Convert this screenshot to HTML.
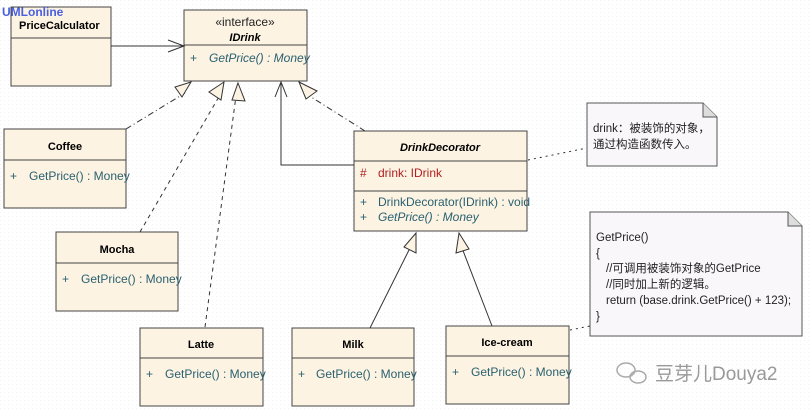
<!DOCTYPE html>
<html><head><meta charset="utf-8"><style>
body{margin:0;background:#fff;}
svg text{font-family:"Liberation Sans","Noto Sans CJK SC",sans-serif;}
</style></head><body>
<svg width="810" height="412" viewBox="0 0 810 412" xmlns="http://www.w3.org/2000/svg">
<defs>
<pattern id="bg" width="4" height="4" patternUnits="userSpaceOnUse"><rect width="4" height="4" fill="#fff"/><rect width="1" height="1" fill="#f2f2f2"/></pattern>
</defs>
<rect width="810" height="412" fill="url(#bg)"/>
<g stroke="#444" stroke-width="1" fill="#fcf3e3">
<rect x="11" y="7" width="100" height="79"/><line x1="11" y1="38" x2="111" y2="38"/>
<rect x="184" y="10" width="123" height="71"/><line x1="184" y1="45" x2="307" y2="45"/>
<rect x="4" y="129" width="122" height="79"/><line x1="4" y1="160" x2="126" y2="160"/>
<rect x="56" y="232" width="122" height="79"/><line x1="56" y1="263" x2="178" y2="263"/>
<rect x="140" y="328" width="123" height="78"/><line x1="140" y1="358" x2="263" y2="358"/>
<rect x="292" y="328" width="122" height="78"/><line x1="292" y1="358" x2="414" y2="358"/>
<rect x="446" y="326" width="123" height="78"/><line x1="446" y1="356" x2="569" y2="356"/>
<rect x="354" y="131" width="173" height="100"/><line x1="354" y1="161" x2="527" y2="161"/><line x1="354" y1="191" x2="527" y2="191"/>
</g>
<g stroke="#555" fill="#f9f7fa">
<path d="M587,103 H703 L717,117 V166 H587 Z"/><path d="M703,103 V117 H717" fill="#ddd"/>
<path d="M590,212 H788 L802,226 V336 H590 Z"/><path d="M788,212 V226 H802" fill="#ddd"/>
</g>
<g stroke="#333" fill="none">
<line x1="111" y1="46" x2="184" y2="46"/><path d="M168,40 L184,46 L168,52"/>
<path d="M354,165 H281 V82"/><path d="M275,97 L281,82 L287,97"/>
<path d="M126,129 L185,93" stroke-dasharray="6,3,1,3"/>
<path d="M140,232 L220,95" stroke-dasharray="4,4"/>
<path d="M205,327 L236,96" stroke-dasharray="4,4"/>
<path d="M365,131 L308,95" stroke-dasharray="6,3,1,3"/>
<path d="M370,328 L410,248"/>
<path d="M492,326 L462,248"/>
<path d="M528,160 L587,148" stroke-dasharray="2,4"/>
<path d="M570,330 L590,326" stroke-dasharray="2,4"/>
</g>
<g stroke="#333" fill="#fcf3e3">
<path d="M191,82 L182,97 L175,87 Z"/>
<path d="M224,82 L221,100 L209,92 Z"/>
<path d="M238,83 L245,101 L232,100 Z"/>
<path d="M299,82 L317,91 L306,99 Z"/>
<path d="M416,233 L416,253 L404,247 Z"/>
<path d="M459,233 L469,249 L456,253 Z"/>
</g>
<text x="2" y="16" font-size="12" font-weight="bold" fill="#4a5fe0">UMLonline</text>
<g font-size="11">
<text x="19" y="29" font-weight="bold">PriceCalculator</text>
<text x="245" y="26" text-anchor="middle" fill="#222" font-size="12">«interface»</text>
<text x="245" y="41" text-anchor="middle" font-weight="bold" font-style="italic">IDrink</text>
</g>
<g font-size="12" fill="#2a6070">
<text x="190" y="62">+</text><text x="209" y="62" font-style="italic">GetPrice() : Money</text>
<text x="10" y="180">+</text><text x="29" y="180">GetPrice() : Money</text>
<text x="62" y="283">+</text><text x="81" y="283">GetPrice() : Money</text>
<text x="146" y="378">+</text><text x="165" y="378">GetPrice() : Money</text>
<text x="298" y="378">+</text><text x="316" y="378">GetPrice() : Money</text>
<text x="452" y="376">+</text><text x="471" y="376">GetPrice() : Money</text>
<text x="360" y="177" fill="#b02020">#</text><text x="378" y="177" fill="#b02020">drink: IDrink</text>
<text x="360" y="206">+</text><text x="378" y="206">DrinkDecorator(IDrink) : void</text>
<text x="360" y="221">+</text><text x="378" y="221" font-style="italic">GetPrice() : Money</text>
</g>
<g font-size="11" font-weight="bold">
<text x="65" y="150" text-anchor="middle">Coffee</text>
<text x="117" y="253" text-anchor="middle">Mocha</text>
<text x="201" y="348" text-anchor="middle">Latte</text>
<text x="353" y="348" text-anchor="middle">Milk</text>
<text x="507" y="346" text-anchor="middle">Ice-cream</text>
<text x="440" y="151" text-anchor="middle" font-style="italic">DrinkDecorator</text>
</g>
<g font-size="11.5" fill="#222">
<text x="593" y="132">drink：被装饰的对象，</text>
<text x="593" y="148">通过构造函数传入。</text>
<text x="596" y="241">GetPrice()</text>
<text x="596" y="257">{</text>
<text x="606" y="272">//可调用被装饰对象的GetPrice</text>
<text x="606" y="288">//同时加上新的逻辑。</text>
<text x="606" y="304">return (base.drink.GetPrice() + 123);</text>
<text x="596" y="320">}</text>
</g>
<text x="655" y="380" font-size="19" fill="#999">豆芽儿Douya2</text>
<g fill="none" stroke="#aaa" stroke-width="1.5"><ellipse cx="626" cy="370" rx="9" ry="7"/><ellipse cx="638" cy="377" rx="8" ry="6"/></g>
</svg>
</body></html>
